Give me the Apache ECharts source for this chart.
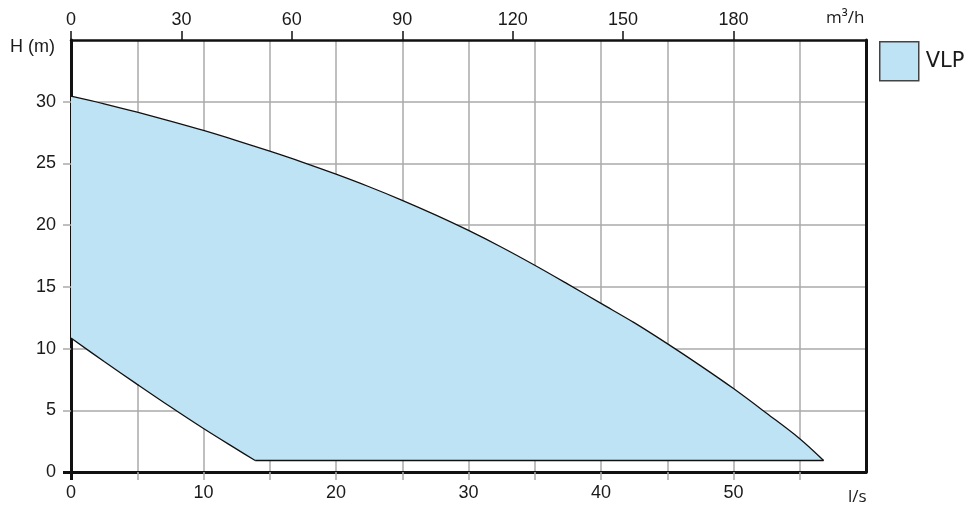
<!DOCTYPE html>
<html>
<head>
<meta charset="utf-8">
<script src="https://cdn.jsdelivr.net/npm/echarts@6/dist/echarts.min.js"></script>
<style>html,body{margin:0;padding:0;background:#fff;}#c{width:973px;height:506px;}</style>
</head>
<body>
<div id="c"></div>
<script>
// Upper curve (Q in l/s, H in m)
const upperQ = [0, 2.5, 5, 7.5, 10, 12.5, 15, 17.5, 20, 22.5, 25, 27.5, 30, 32.5, 35, 37.5, 40, 42.5, 45, 47.5, 50, 52.5, 55, 56.8];
const upperH = [30.45, 29.83, 29.15, 28.43, 27.67, 26.85, 25.99, 25.09, 24.13, 23.11, 22.01, 20.83, 19.57, 18.21, 16.75, 15.22, 13.66, 12.1, 10.4, 8.62, 6.76, 4.76, 2.7, 0.93];
// Lower boundary (from Q = 0 to the bottom corner)
const lowerQ = [0, 2.5, 5, 7.5, 10, 12.5, 13.9];
const lowerH = [10.85, 8.95, 7.1, 5.28, 3.52, 1.85, 0.93];
// Bottom edge (constant head)
const bottomQ = [13.9, 56.8];
const bottomH = [0.93, 0.93];
const seriesName = 'VLP';
const xLabelsLs = [0, 10, 20, 30, 40, 50];
const xTicksLs = [5, 10, 15, 20, 25, 30, 35, 40, 45, 50, 55];
const topTicksM3h = [0, 30, 60, 90, 120, 150, 180];
const yLabels = [0, 5, 10, 15, 20, 25, 30];
const yTicks = [5, 10, 15, 20, 25, 30];

const pairs = (qs, hs) => qs.map((q, i) => [q, hs[i]]);
const upperPts = pairs(upperQ, upperH);
const lowerPts = pairs(lowerQ, lowerH);
const bottomPts = pairs(bottomQ, bottomH);
const outline = upperPts.concat(lowerPts.slice().reverse());

const fill = '#bee3f5';
const ink = '#1a1a1a';
const chart = echarts.init(document.getElementById('c'), null, {renderer: 'canvas'});
const numFont = 'Liberation Sans';
const edge = (name, pts, smooth) => ({
  name: name, type: 'line', data: pts, smooth: smooth, symbol: 'none',
  xAxisIndex: 0, yAxisIndex: 0, z: 3,
  lineStyle: {color: '#111', width: 1.3}, silent: true
});
chart.setOption({
  animation: false,
  backgroundColor: '#fff',
  grid: {left: 71, right: 107, top: 40, bottom: 34},
  legend: {
    data: [seriesName], left: 879, top: 41, orient: 'vertical', padding: 0,
    icon: 'rect', itemWidth: 39, itemHeight: 39,
    itemStyle: {color: fill, borderColor: '#444', borderWidth: 1.5},
    textStyle: {fontSize: 21, color: ink, fontFamily: 'DejaVu Sans', padding: [0, 0, 0, 2]}
  },
  xAxis: [{
    type: 'value', position: 'bottom', min: 0, max: 60, interval: 5,
    axisLine: {show: true, onZero: false, lineStyle: {color: '#111', width: 3}},
    axisTick: {show: true, length: 8, customValues: xTicksLs, lineStyle: {color: '#aaa', width: 1.5}},
    axisLabel: {fontSize: 18, color: ink, fontFamily: numFont, margin: 12, customValues: xLabelsLs},
    splitLine: {show: true, lineStyle: {color: '#aaa', width: 1.5}}
  }, {
    type: 'value', position: 'top', min: 0, max: 216, interval: 30,
    axisLine: {show: true, onZero: false, lineStyle: {color: '#111', width: 2.5}},
    axisTick: {show: true, length: 9, customValues: topTicksM3h, lineStyle: {color: '#111', width: 1.5}},
    axisLabel: {fontSize: 18, color: ink, fontFamily: numFont, margin: 11, customValues: topTicksM3h},
    splitLine: {show: false}
  }, {
    type: 'value', position: 'bottom', min: 0, max: 60, interval: 5,
    axisLine: {show: false},
    axisTick: {show: true, length: 8, customValues: [0], lineStyle: {color: '#111', width: 3}},
    axisLabel: {show: false}, splitLine: {show: false}
  }],
  yAxis: [{
    type: 'value', position: 'left', min: 0, max: 35, interval: 5,
    axisLine: {show: true, onZero: false, lineStyle: {color: '#111', width: 3}},
    axisTick: {show: true, length: 8, customValues: yTicks, lineStyle: {color: '#aaa', width: 1.5}},
    axisLabel: {fontSize: 18, color: ink, fontFamily: numFont, margin: 15, customValues: yLabels},
    splitLine: {show: true, lineStyle: {color: '#aaa', width: 1.5}}
  }, {
    type: 'value', position: 'right', min: 0, max: 35, interval: 5,
    axisLine: {show: true, onZero: false, lineStyle: {color: '#111', width: 3}},
    axisTick: {show: false}, axisLabel: {show: false}, splitLine: {show: false}
  }, {
    type: 'value', position: 'left', min: 0, max: 35, interval: 5,
    axisLine: {show: false},
    axisTick: {show: true, length: 8, customValues: [0], lineStyle: {color: '#111', width: 3}},
    axisLabel: {show: false}, splitLine: {show: false}
  }],
  graphic: [
    {type: 'text', left: 10, top: 38, style: {text: 'H (m)', fontSize: 18, fill: ink, fontFamily: numFont}},
    {type: 'text', left: 826, top: 10, style: {text: 'm³/h', fontSize: 17, fill: ink, fontFamily: 'Open Sans'}},
    {type: 'text', left: 848, top: 489, style: {text: 'l/s', fontSize: 17, fill: ink, fontFamily: 'Open Sans'}}
  ],
  series: [{
    name: seriesName,
    type: 'custom',
    xAxisIndex: 0, yAxisIndex: 0, z: 2,
    itemStyle: {color: fill, borderColor: '#111', borderWidth: 1.3},
    encode: {x: 0, y: 1},
    data: outline,
    renderItem: function (params, api) {
      if (params.dataIndex !== 0) return null;
      const pts = outline.map(p => api.coord(p));
      return {
        type: 'polygon',
        shape: {points: pts},
        style: {fill: fill, stroke: null}
      };
    }
  },
  edge('upper', upperPts, 0.35),
  edge('lower', lowerPts, 0.35),
  edge('bottom', bottomPts, false)
  ]
});
</script>
</body>
</html>
